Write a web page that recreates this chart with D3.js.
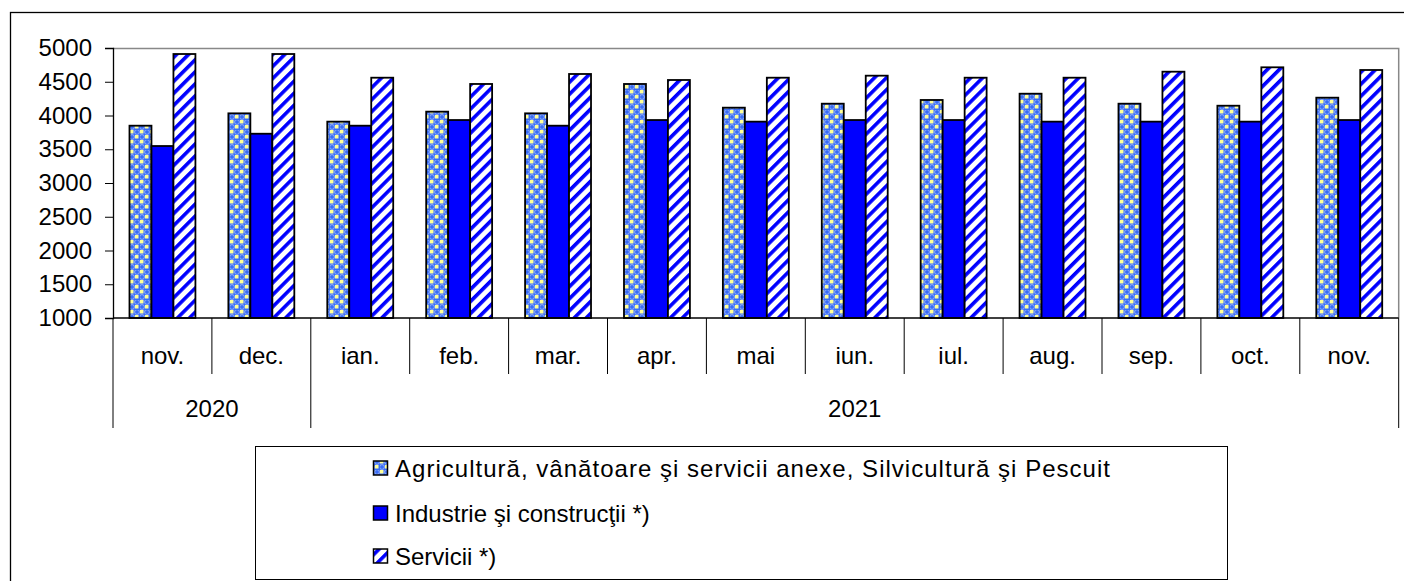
<!DOCTYPE html>
<html><head><meta charset="utf-8">
<script src="https://cdn.jsdelivr.net/npm/d3@7"></script>
<style>body{margin:0;background:#fff}svg{display:block;font-family:"Liberation Sans",Arial,sans-serif}</style>
</head><body><svg id="c" width="1404" height="581"></svg>
<script>
const months = ["nov.","dec.","ian.","feb.","mar.","apr.","mai","iun.","iul.","aug.","sep.","oct.","nov."];
const years = [{label:"2020", start:0, end:2},{label:"2021", start:2, end:13}];
const seriesNames = ["Agricultură, vânătoare şi servicii anexe, Silvicultură şi Pescuit","Industrie şi construcţii *)","Servicii *)"];
const agri = [3849,4032,3909,4057,4032,4467,4116,4175,4230,4323,4175,4145,4264];
const industry = [3548,3730,3849,3933,3849,3933,3909,3933,3933,3909,3909,3909,3933];
const services = [4911,4911,4560,4467,4615,4526,4560,4590,4560,4560,4649,4714,4674];
const yTicks = [1000,1500,2000,2500,3000,3500,4000,4500,5000];

(function(){
const svg = d3.select("#c");
const defs = svg.append("defs");
// agriculture pattern
const pA = defs.append("pattern").attr("id","pAgri").attr("patternUnits","userSpaceOnUse").attr("width",10).attr("height",10);
pA.append("rect").attr("width",10).attr("height",10).attr("fill","#3a6cf6");
pA.append("rect").attr("x",0).attr("y",0).attr("width",3.5).attr("height",3.5).attr("fill","#ffff99");
pA.append("rect").attr("x",5).attr("y",5).attr("width",3.5).attr("height",3.5).attr("fill","#ffff99");
pA.append("circle").attr("cx",7).attr("cy",2).attr("r",2.4).attr("fill","none").attr("stroke","#a9c0f5").attr("stroke-width",0.8);
pA.append("circle").attr("cx",2).attr("cy",7).attr("r",2.4).attr("fill","none").attr("stroke","#a9c0f5").attr("stroke-width",0.8);
// services pattern
const pS = defs.append("pattern").attr("id","pServ").attr("patternUnits","userSpaceOnUse").attr("width",8.5).attr("height",8.5).attr("patternTransform","rotate(45)");
pS.append("rect").attr("width",8.5).attr("height",8.5).attr("fill","#fff");
pS.append("rect").attr("width",3.6).attr("height",8.5).attr("fill","#0000ff");
const fills = ["url(#pAgri)","#0000ff","url(#pServ)"];

// outer frame
svg.append("rect").attr("x",10.5).attr("y",12.5).attr("width",1420).attr("height",600).attr("fill","none").attr("stroke","#000").attr("stroke-width",1.3);

const pL = 113, pR = 1398.7, pT = 48, pB = 318;
const y = d3.scaleLinear().domain([1000,5000]).range([pB, pT]);
const x0 = d3.scaleBand().domain(d3.range(months.length)).range([pL,pR]).padding(0);
const x1 = d3.scaleBand().domain([0,1,2]).range([0, x0.bandwidth()]).paddingInner(0).paddingOuter(0.75);

// plot area border (top/right gray)
svg.append("path").attr("d",`M${pL},${pT+0.5}H${pR}V${pB}`).attr("fill","none").attr("stroke","#888").attr("stroke-width",1.5);

// bars
const data = months.map((m,i)=>[agri[i],industry[i],services[i]]);
const g = svg.append("g");
data.forEach((vals,i)=>{
  vals.forEach((v,s)=>{
    g.append("rect")
      .attr("x", x0(i)+x1(s)).attr("y", y(v))
      .attr("width", x1.bandwidth()).attr("height", y(1000)-y(v))
      .attr("fill", fills[s]).attr("stroke","#000").attr("stroke-width",1.8);
  });
});

// y axis
const yAxis = d3.axisLeft(y).tickValues(yTicks).tickSize(8).tickPadding(13).tickFormat(d3.format("d"));
const ya = svg.append("g").attr("transform",`translate(${pL},0)`).call(yAxis);
ya.select(".domain").attr("stroke","#000").attr("stroke-width",1.3);
ya.selectAll("line").attr("stroke","#000");
ya.selectAll("text").attr("font-size",24).attr("fill","#000").attr("font-family","Liberation Sans, Arial, sans-serif");

// x axis line
svg.append("line").attr("x1",pL).attr("x2",pR).attr("y1",pB).attr("y2",pB).attr("stroke","#000").attr("stroke-width",1.3);
// category separators
const yearBounds = new Set(years.flatMap(d=>[d.start,d.end]));
for(let i=0;i<=months.length;i++){
  const xx = i<months.length ? x0(i) : pR;
  svg.append("line").attr("x1",xx).attr("x2",xx).attr("y1",pB).attr("y2", yearBounds.has(i)?428:374).attr("stroke","#000").attr("stroke-width",1);
}
// month labels
svg.append("g").selectAll("text").data(months).join("text")
  .attr("x",(d,i)=>x0(i)+x0.bandwidth()/2).attr("y",364)
  .attr("text-anchor","middle").attr("font-size",24).text(d=>d);
// year labels
svg.append("g").selectAll("text").data(years).join("text")
  .attr("x",d=>(x0(d.start)+(d.end<months.length?x0(d.end):pR))/2).attr("y",417)
  .attr("text-anchor","middle").attr("font-size",24).text(d=>d.label);

// legend
svg.append("rect").attr("x",255.5).attr("y",446.5).attr("width",972).attr("height",133).attr("fill","#fff").attr("stroke","#000").attr("stroke-width",1);
const ly = [468,513,556];
seriesNames.forEach((n,i)=>{
  svg.append("rect").attr("x",373.5).attr("y",ly[i]-7).attr("width",14).attr("height",14).attr("fill",fills[i]).attr("stroke","#000").attr("stroke-width",1.5);
  const t = svg.append("text").attr("x",395).attr("y",ly[i]+8.5).attr("font-size",24).text(n);
  if(i===0) t.attr("textLength",715).attr("lengthAdjust","spacing");
});
})();
</script></body></html>
